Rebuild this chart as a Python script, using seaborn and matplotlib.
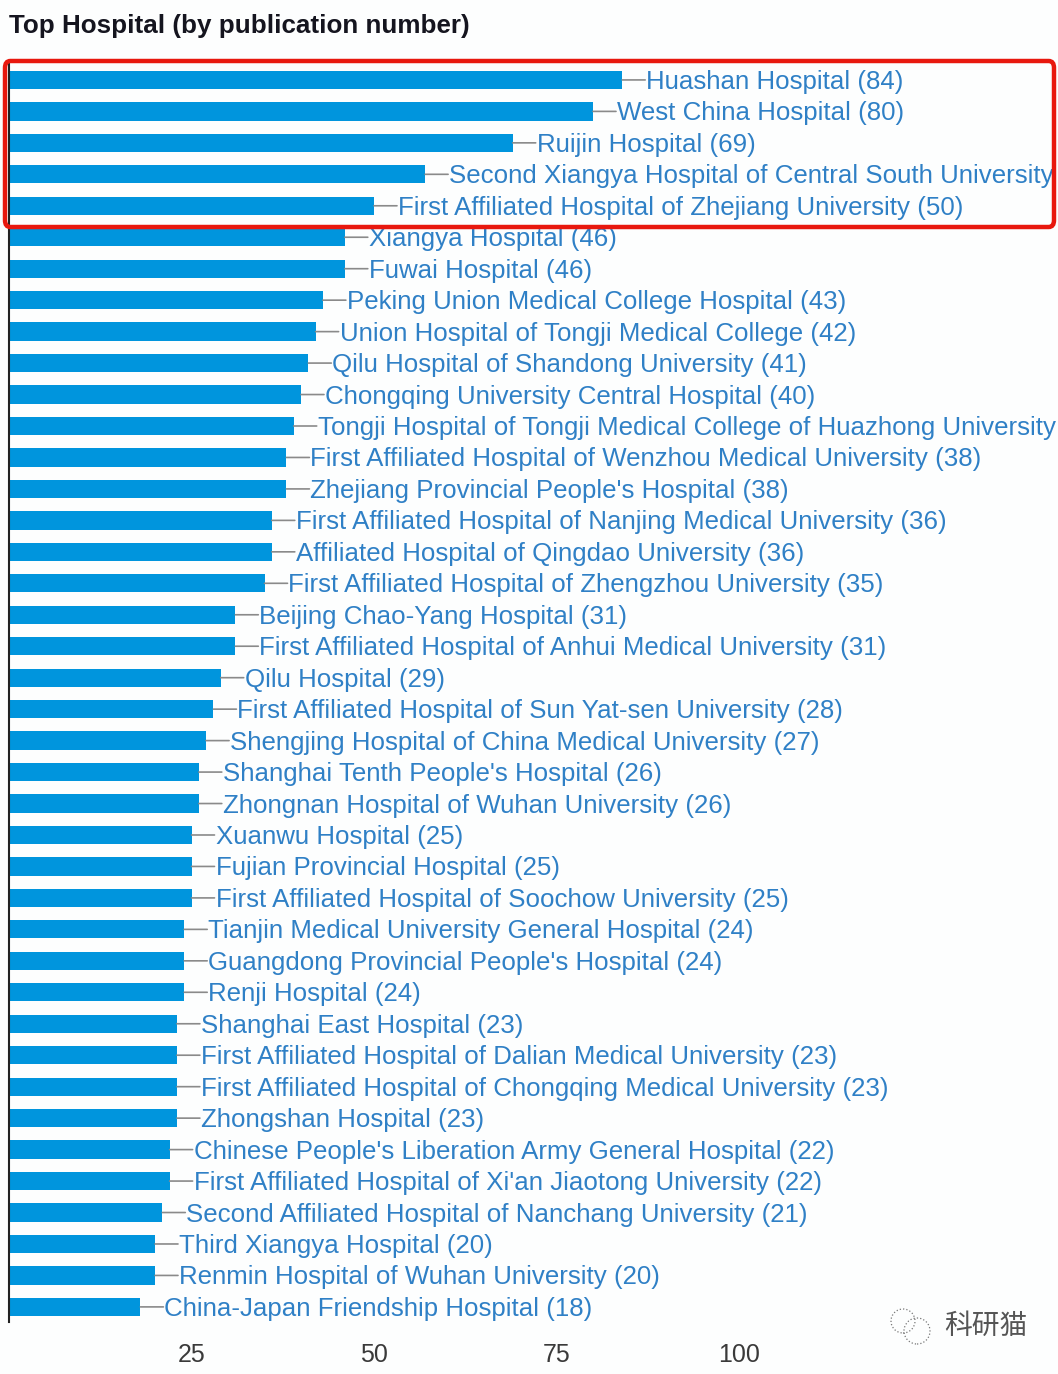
#!/usr/bin/env python3
import pandas as pd
import seaborn as sns
import matplotlib.pyplot as plt
from matplotlib.patches import FancyBboxPatch, Circle

hospitals = [
    "Huashan Hospital", "West China Hospital", "Ruijin Hospital",
    "Second Xiangya Hospital of Central South University",
    "First Affiliated Hospital of Zhejiang University", "Xiangya Hospital",
    "Fuwai Hospital", "Peking Union Medical College Hospital",
    "Union Hospital of Tongji Medical College",
    "Qilu Hospital of Shandong University",
    "Chongqing University Central Hospital",
    "Tongji Hospital of Tongji Medical College of Huazhong University",
    "First Affiliated Hospital of Wenzhou Medical University",
    "Zhejiang Provincial People's Hospital",
    "First Affiliated Hospital of Nanjing Medical University",
    "Affiliated Hospital of Qingdao University",
    "First Affiliated Hospital of Zhengzhou University",
    "Beijing Chao-Yang Hospital",
    "First Affiliated Hospital of Anhui Medical University", "Qilu Hospital",
    "First Affiliated Hospital of Sun Yat-sen University",
    "Shengjing Hospital of China Medical University",
    "Shanghai Tenth People's Hospital",
    "Zhongnan Hospital of Wuhan University", "Xuanwu Hospital",
    "Fujian Provincial Hospital",
    "First Affiliated Hospital of Soochow University",
    "Tianjin Medical University General Hospital",
    "Guangdong Provincial People's Hospital", "Renji Hospital",
    "Shanghai East Hospital",
    "First Affiliated Hospital of Dalian Medical University",
    "First Affiliated Hospital of Chongqing Medical University",
    "Zhongshan Hospital",
    "Chinese People's Liberation Army General Hospital",
    "First Affiliated Hospital of Xi'an Jiaotong University",
    "Second Affiliated Hospital of Nanchang University",
    "Third Xiangya Hospital", "Renmin Hospital of Wuhan University",
    "China-Japan Friendship Hospital",
]
counts = [84, 80, 69, 57, 50, 46, 46, 43, 42, 41, 40, 39, 38, 38, 36, 36, 35,
          31, 31, 29, 28, 27, 26, 26, 25, 25, 25, 24, 24, 24, 23, 23, 23, 23,
          22, 22, 21, 20, 20, 18]
# these two run off the edge in the original, the count never shows
no_count_shown = [
    "Second Xiangya Hospital of Central South University",
    "Tongji Hospital of Tongji Medical College of Huazhong University",
]
x_ticks = [25, 50, 75, 100]

W, H = 1058, 1374
BAR_COLOR = "#0095dd"
TEXT_COLOR = "#2f80c6"

plt.rcParams["font.family"] = ["Liberation Sans", "DejaVu Sans"]

df = pd.DataFrame({"hospital": hospitals, "count": counts})

fig = plt.figure(figsize=(W / 100, H / 100), dpi=100, facecolor="#fdfefe")
ax = fig.add_axes([9 / W, 1 - 1322 / H, 1049 / W, 1260 / H], facecolor="#fdfefe")

sns.barplot(df, x="count", y="hospital", orient="h", color=BAR_COLOR,
            saturation=1, width=0.58, ax=ax)
ax.set_xlim(0, 1049 / 7.3)
ax.set_ylim(39.48, -0.57)
ax.set_xlabel("")
ax.set_ylabel("")
ax.set_yticks([])
ax.set_xticks(x_ticks)
ax.tick_params(axis="x", length=0, pad=15, labelsize=18, labelcolor="#3a3a3a")
sns.despine(ax=ax, top=True, right=True, bottom=True)
ax.spines["left"].set_color("#222222")
ax.spines["left"].set_linewidth(1.5)

# leader line + label for each bar
for i, (name, val) in enumerate(zip(hospitals, counts)):
    ax.annotate("", xy=(val, i), xytext=(23, 0), textcoords="offset pixels",
                annotation_clip=False,
                arrowprops=dict(arrowstyle="-", color="#8a8a8a", lw=1.2,
                                shrinkA=0, shrinkB=0))
    label = name if name in no_count_shown else f"{name} ({val})"
    ax.annotate(label, xy=(val, i), xytext=(24, -2),
                textcoords="offset pixels", va="center", ha="left",
                fontsize=18.65, color=TEXT_COLOR, annotation_clip=False)

fig.text(9 / W, 1 - 26 / H, "Top Hospital (by publication number)",
         fontsize=18.7, fontweight="bold", color="#15151f", va="center")

# red highlight box around the top five
box = FancyBboxPatch((5 / W, 1 - 227 / H), 1049 / W, 166 / H,
                     boxstyle="round,pad=0,rounding_size=0.005",
                     transform=fig.transFigure, fill=False,
                     edgecolor="#e8180e", linewidth=3.2, zorder=10)
fig.add_artist(box)

# watermark
fig.text(986 / W, 1 - 1326 / H, "科研猫", fontsize=20, color="#555555",
         family=["Noto Sans CJK SC", "DejaVu Sans"], ha="center", va="center")
for cx, cy, r in [(903, 1321, 12), (917, 1331, 13)]:
    fig.add_artist(Circle((cx, H - cy), r, transform=None, fill=False,
                          edgecolor="#777777", linewidth=0.9, linestyle=":"))

fig.savefig("out.png", dpi=100, facecolor=fig.get_facecolor())
